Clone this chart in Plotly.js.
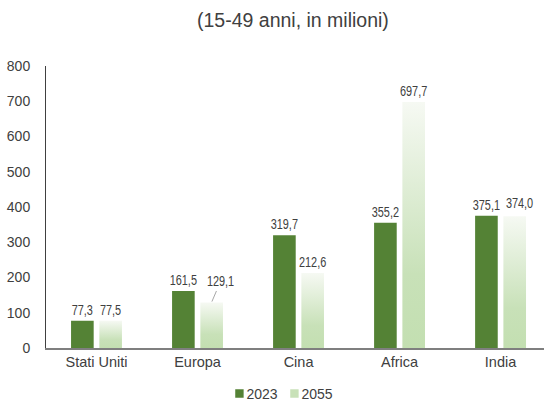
<!DOCTYPE html>
<html><head><meta charset="utf-8">
<script src="https://cdn.plot.ly/plotly-3.0.1.min.js"></script>
<style>html,body{margin:0;padding:0;background:#fff}#chart{width:544px;height:402px}</style>
</head><body><div id="chart"></div>
<script>
const categories = ["Stati Uniti", "Europa", "Cina", "Africa", "India"];
const values2023 = [77.3, 161.5, 319.7, 355.2, 375.1];
const values2055 = [77.5, 129.1, 212.6, 697.7, 374.0];
const seriesNames = ["2023", "2055"];
const subtitle = "(15-49 anni, in milioni)";

const fmt = v => v.toFixed(1).replace('.', ',');
const leaderIdx = 1;  // Europa 2055 label uses a leader line
const shiftedIdx = 4; // India 2055 label nudged right to avoid overlap
const text2055 = values2055.map((v, i) => (i === leaderIdx || i === shiftedIdx) ? "" : fmt(v));

const FONT = "'Liberation Sans', Arial, sans-serif";
const LBL = {size: 14, color: '#404040', family: FONT};
const data = [
  {type: 'bar', name: seriesNames[0], x: categories, y: values2023,
   marker: {color: '#548235'}, text: values2023.map(fmt), textposition: 'outside',
   textfont: LBL, cliponaxis: false, constraintext: 'none', hoverinfo: 'none'},
  {type: 'bar', name: seriesNames[1], x: categories, y: values2055,
   marker: {color: '#c8e1b8'}, text: text2055, textposition: 'outside',
   textfont: LBL, cliponaxis: false, constraintext: 'none', hoverinfo: 'none'}
];

const layout = {
  width: 544, height: 402,
  margin: {l: 46, r: 0, t: 66, b: 54, autoexpand: false},
  paper_bgcolor: '#fff', plot_bgcolor: '#fff',
  font: {family: FONT, size: 14, color: '#404040'},
  separators: ',.',
  barmode: 'group', bargap: 0.44, bargroupgap: 0.2,
  showlegend: true,
  legend: {orientation: 'h', xref: 'container', yref: 'container', x: 0.385, xanchor: 'left',
           y: 0.02, yanchor: 'middle',
           font: {size: 14, color: '#404040', family: FONT}, itemwidth: 30, traceorder: 'normal'},
  xaxis: {range: [-0.5, 4.43], showline: true, linecolor: '#7f7f7f', linewidth: 1.5,
          ticks: '', showgrid: false, zeroline: false, fixedrange: true,
          tickfont: {size: 14.5, color: '#404040', family: FONT}},
  yaxis: {range: [0, 800], dtick: 100, showline: true, linecolor: '#404040', linewidth: 1,
          ticks: '', showgrid: false, zeroline: false, ticklabelstandoff: 12,
          tickfont: {size: 14, color: '#404040', family: FONT}},
  annotations: [
    {text: subtitle, xref: 'paper', yref: 'paper', x: 0.5, y: 1, yshift: 46, xshift: -2,
     xanchor: 'center', yanchor: 'middle', showarrow: false,
     font: {size: 19.5, color: '#404040', family: FONT}},
    {text: fmt(values2055[leaderIdx]), x: categories[leaderIdx], y: values2055[leaderIdx],
     xshift: 14, showarrow: true, arrowhead: 0, arrowwidth: 0.8, arrowcolor: '#8f8f8f',
     ax: 9, ay: -21, standoff: 1, font: LBL},
    {text: fmt(values2055[shiftedIdx]), x: categories[shiftedIdx], y: values2055[shiftedIdx],
     xshift: 19, yshift: 3, xanchor: 'center', yanchor: 'bottom', showarrow: false, font: LBL}
  ]
};

function condense(el, s) {
  const bb = el.getBBox();
  const cx = bb.x + bb.width / 2;
  const prev = el.getAttribute('transform') || '';
  el.setAttribute('transform', prev + ' translate(' + cx + ',0) scale(' + s + ',1) translate(' + (-cx) + ',0)');
}

Plotly.newPlot('chart', data, layout, {staticPlot: true, displayModeBar: false}).then(gd => {
  const svg = gd.querySelector('svg.main-svg');
  const ns = 'http://www.w3.org/2000/svg';
  let defs = svg.querySelector('defs');
  if (!defs) { defs = document.createElementNS(ns, 'defs'); svg.insertBefore(defs, svg.firstChild); }
  const g = document.createElementNS(ns, 'linearGradient');
  g.setAttribute('id', 'grad2055');
  g.setAttribute('x1', '0'); g.setAttribute('y1', '0'); g.setAttribute('x2', '0'); g.setAttribute('y2', '1');
  [[0, '#f6f9f3'], [0.7, '#c8e1b8'], [1, '#c3dfb1']].forEach(([o, c]) => {
    const s = document.createElementNS(ns, 'stop');
    s.setAttribute('offset', o); s.setAttribute('stop-color', c); g.appendChild(s);
  });
  defs.appendChild(g);
  const traces = gd.querySelectorAll('.barlayer .trace.bars');
  if (traces[1]) traces[1].querySelectorAll('path').forEach(p => { p.style.fill = 'url(#grad2055)'; });
  // condensed look for value labels
  gd.querySelectorAll('text.bartext').forEach(t => condense(t, 0.78));
  const ann = gd.querySelectorAll('.annotation');
  [1, 2].forEach(k => { if (ann[k]) { const t = ann[k].querySelector('text'); if (t) condense(t, 0.78); } });
  // compact legend: small squares, text close to symbol, items 55px apart
  const items = gd.querySelectorAll('.legend .traces');
  let firstX = null;
  items.forEach((t, i) => {
    const pt = t.querySelector('.legendpoints path');
    if (pt) pt.setAttribute('transform', 'translate(30,0) scale(0.7)');
    const tx = t.querySelector('text.legendtext');
    if (tx) tx.setAttribute('x', 37);
    const m = /translate\(([-\d.]+),\s*([-\d.]+)\)/.exec(t.getAttribute('transform') || '');
    if (m) {
      const x = parseFloat(m[1]), y = parseFloat(m[2]);
      if (firstX === null) firstX = x;
      t.setAttribute('transform', 'translate(' + (firstX + 55 * i) + ',' + y + ')');
    }
  });
});
</script></body></html>
